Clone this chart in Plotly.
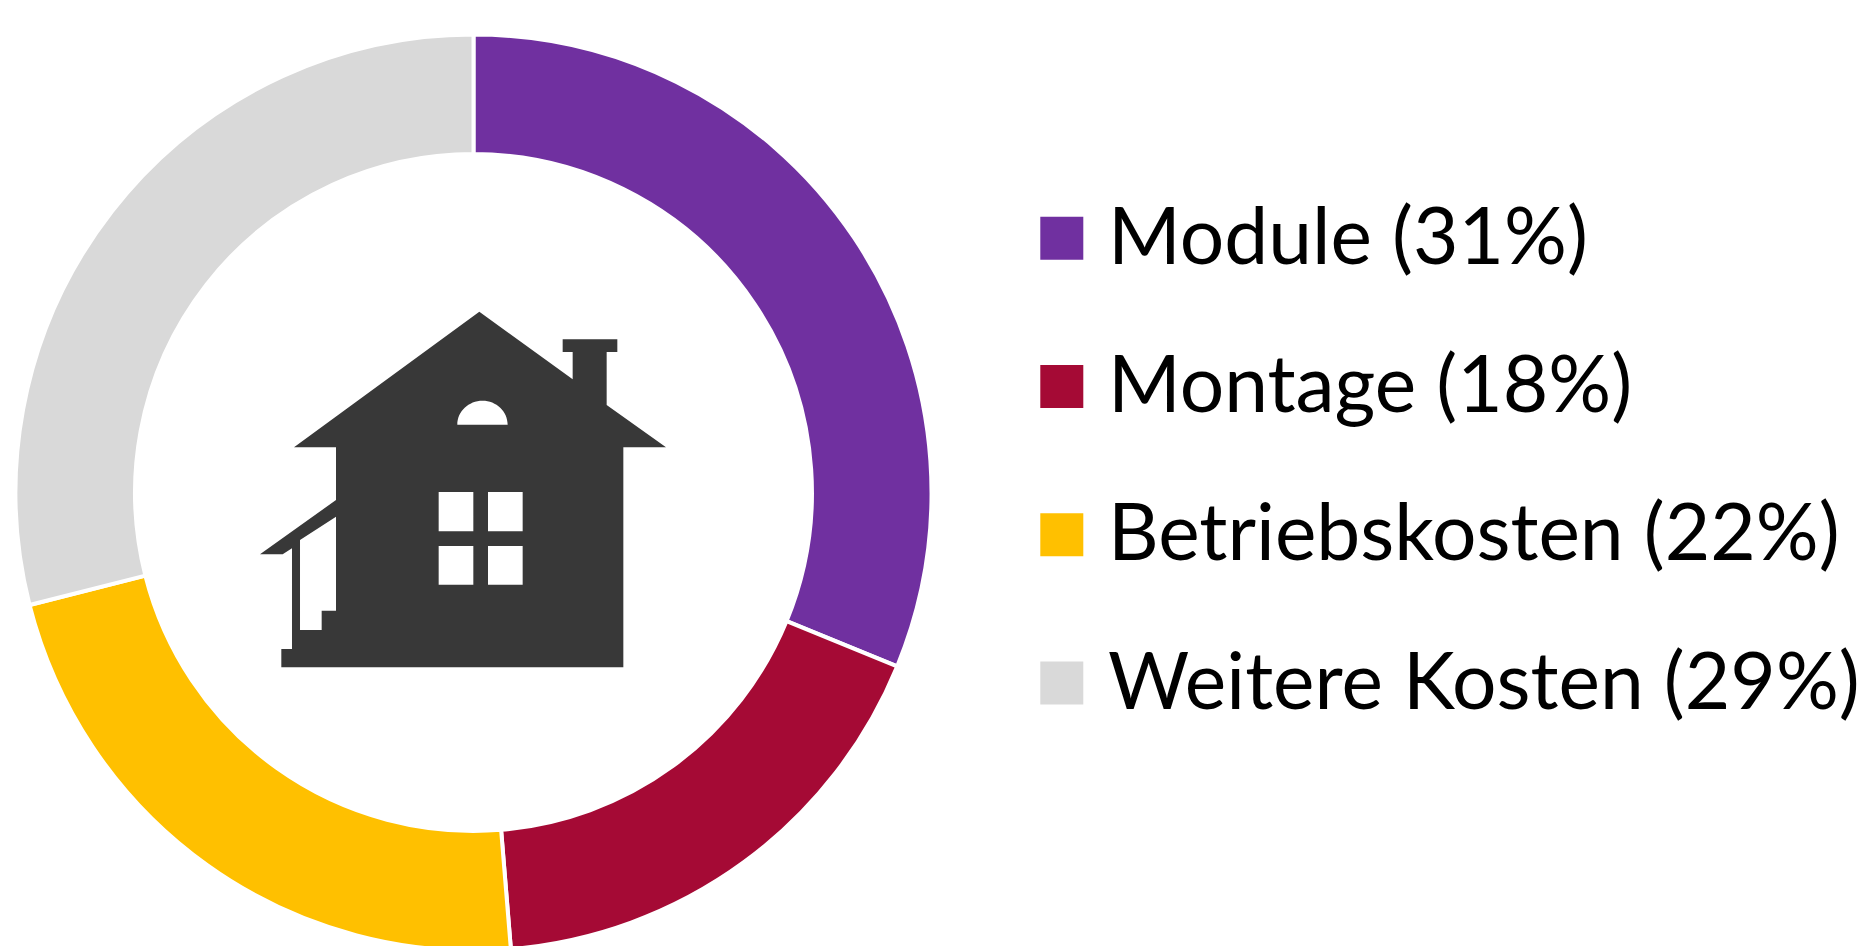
import plotly.graph_objects as go

labels = ["Module", "Montage", "Betriebskosten", "Weitere Kosten"]
percent_labels = [31, 18, 22, 29]
# slice sizes as measured from the separator angles in the picture
values = [31.2, 17.5, 22.35, 28.95]
colors = ["#7030A0", "#A50A35", "#FFC000", "#D9D9D9"]

W, H = 1872, 952  # the ring runs slightly past the bottom of the 946 px window, as in the reference
CX, CY, R = 473.5, 492.5, 458
HOUSE = "#383838"

def px(x):
    return x / W

def py(y):
    return 1 - y / H

def pt(X, Y):
    return f"{px(240 + X / 3):.5f},{py(290 + Y / 3):.5f}"

def poly(points):
    return "M" + " L".join(pt(*p) for p in points) + " Z"

outline = [(718, 65), (998, 268), (998, 186), (968, 186), (968, 148), (1132, 148), (1132, 186),
           (1100, 186), (1100, 345), (1278, 472), (1150, 472), (1150, 1132), (124, 1132),
           (124, 1077), (156, 1077), (156, 775), (128, 793), (60, 793), (288, 630), (288, 472),
           (162, 472)]
porch = [(180, 750), (288, 680), (288, 962), (245, 962), (245, 1020), (180, 1020)]
panes = [[(596, 606), (700, 606), (700, 724), (596, 724)],
         [(744, 606), (848, 606), (848, 724), (744, 724)],
         [(596, 768), (700, 768), (700, 884), (596, 884)],
         [(744, 768), (848, 768), (848, 884), (744, 884)]]
moon = (f"M{pt(652, 404)} C{pt(652, 364)} {pt(686, 332)} {pt(727.5, 332)} "
        f"C{pt(769, 332)} {pt(803, 364)} {pt(803, 404)} Z")
house_path = " ".join([poly(outline), poly(porch)] + [poly(p) for p in panes] + [moon])

fig = go.Figure(go.Pie(
    labels=labels, values=values, sort=False, direction="clockwise", rotation=0,
    hole=0.739, textinfo="none", showlegend=False,
    marker=dict(colors=colors, line=dict(color="white", width=4)),
    domain=dict(x=[px(CX - R), px(CX + R)], y=[py(CY + R), py(CY - R)]),
))

shapes = [dict(type="path", xref="paper", yref="paper", path=house_path,
               fillcolor=HOUSE, line=dict(width=0), fillrule="evenodd", layer="above")]
annotations = []
for i, (lab, val, col) in enumerate(zip(labels, percent_labels, colors)):
    yc = 238.2 + i * 148.3
    shapes.append(dict(type="rect", xref="paper", yref="paper",
                       x0=px(1040.3), x1=px(1083.3), y0=py(yc - 21.5), y1=py(yc + 21.5),
                       fillcolor=col, line=dict(width=0)))
    annotations.append(dict(xref="paper", yref="paper", x=px(1106), y=py(yc - 4.5),
                            xanchor="left", yanchor="middle", showarrow=False,
                            text=f"{lab} ({val}%)",
                            font=dict(family="Lato", size=78.5, color="black")))

fig.update_layout(width=W, height=H, margin=dict(l=0, r=0, t=0, b=0),
                  paper_bgcolor="white", plot_bgcolor="white",
                  shapes=shapes, annotations=annotations)
fig.write_html("out.html", config=dict(displayModeBar=False),
               post_script="document.body.style.margin='0';document.documentElement.style.overflow='hidden';document.body.style.overflow='hidden';")
